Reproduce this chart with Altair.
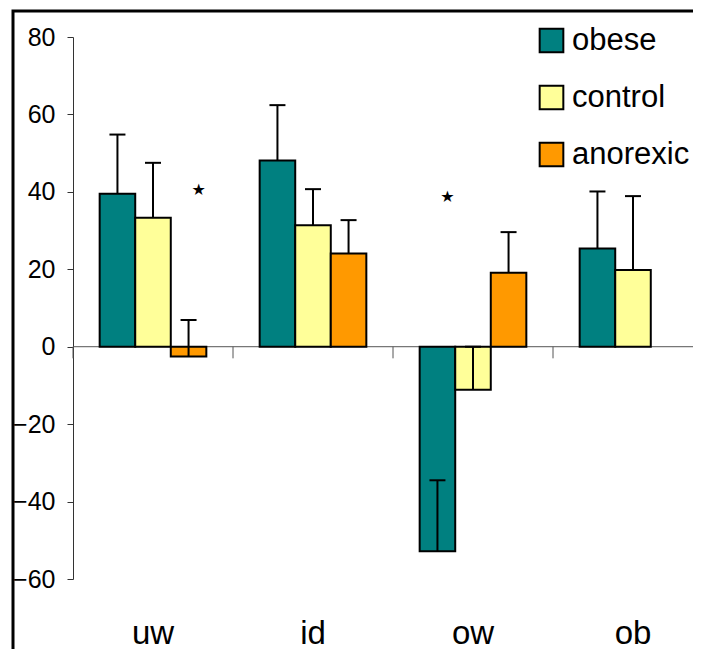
import altair as alt
import pandas as pd

groups = ["uw", "id", "ow", "ob"]
series = ["obese", "control", "anorexic"]
colors = ["#008080", "#FFFF99", "#FF9900"]

obese_vals = [39.5, 48.1, -52.8, 25.4]
control_vals = [33.3, 31.4, -11.1, 19.8]
anorexic_vals = [-2.5, 24.1, 19.1, None]

obese_err = [15.3, 14.3, 18.3, 14.7]
control_err = [14.2, 9.3, 11.1, 19.1]
anorexic_err = [9.4, 8.6, 10.5, None]

star_groups = ["uw", "ow"]
star_series = ["anorexic", "obese"]
star_vals = [40.6, 38.6]

rows = []
for s, vals, errs in [("obese", obese_vals, obese_err),
                      ("control", control_vals, control_err),
                      ("anorexic", anorexic_vals, anorexic_err)]:
    for g, v, e in zip(groups, vals, errs):
        if v is None:
            continue
        rows.append({"group": g, "series": s, "value": v, "upper": v + e})
df = pd.DataFrame(rows)
stars = pd.DataFrame({"group": star_groups, "series": star_series, "value": star_vals})
gdf = pd.DataFrame({"group": groups})
one = pd.DataFrame({"a": [0]})

FONT = "Liberation Sans"
xscale = alt.Scale(domain=groups, range=[0, 640], paddingInner=0, paddingOuter=0)
xaxis = alt.Axis(orient="bottom", domain=False, ticks=False, labelFontSize=33, labelFont=FONT,
                 labelColor="black", labelPadding=38, labelAngle=0, title=None, grid=False)
yscale = alt.Scale(domain=[-60, 80], nice=False, zero=False)
yaxis = alt.Axis(values=[-60, -40, -20, 0, 20, 40, 60, 80], domain=True, domainColor="#333333",
                 ticks=True, tickSize=6, tickColor="#333333", labelFontSize=25, labelFont=FONT,
                 labelColor="black", labelPadding=12, grid=False, title=None)
offscale = alt.Scale(domain=series, paddingOuter=0.75, paddingInner=0)


def X():
    return alt.X("group:N", scale=xscale, axis=xaxis)


def XO():
    return alt.XOffset("series:N", scale=offscale)


frame = alt.Chart(one).mark_rect(fillOpacity=0, stroke="black", strokeWidth=3).encode(
    x=alt.value(-60), x2=alt.value(720), y=alt.value(-26), y2=alt.value(720))

zero = alt.Chart(one).mark_rule(color="#555555", strokeWidth=1).encode(
    y=alt.Y(datum=0, scale=yscale, axis=yaxis))

seps = alt.Chart(gdf).mark_rule(color="#555555", strokeWidth=1).encode(
    x=alt.X("group:N", bandPosition=0, scale=xscale, axis=xaxis),
    y=alt.Y(datum=0, scale=yscale, axis=yaxis), y2=alt.Y2(datum=-3))

bars = alt.Chart(df).mark_bar(stroke="black", strokeWidth=2).encode(
    x=X(), xOffset=XO(),
    y=alt.Y("value:Q", scale=yscale, axis=yaxis),
    fill=alt.Fill("series:N", scale=alt.Scale(domain=series, range=colors),
                  legend=alt.Legend(orient="none", legendX=463, legendY=-12, title=None,
                                    labelFontSize=31, labelFont=FONT, labelColor="black",
                                    symbolType="square", symbolSize=560,
                                    symbolStrokeColor="black", symbolStrokeWidth=2,
                                    symbolOpacity=1, rowPadding=24, labelOffset=5, padding=0)))

stems = alt.Chart(df).mark_rule(color="black", strokeWidth=2).encode(
    x=X(), xOffset=XO(), y=alt.Y("value:Q", scale=yscale, axis=yaxis), y2="upper:Q")

caps = alt.Chart(df).mark_tick(color="black", thickness=2, size=16, opacity=1).encode(
    x=X(), xOffset=XO(), y=alt.Y("upper:Q", scale=yscale, axis=yaxis))

star = alt.Chart(stars).mark_text(text="★", dx=10, fontSize=16, font="DejaVu Sans", color="black").encode(
    x=X(), xOffset=XO(), y=alt.Y("value:Q", scale=yscale, axis=yaxis))

chart = alt.layer(frame, zero, seps, bars, stems, caps, star).properties(
    width=620, height=542,
    autosize=alt.AutoSizeParams(type="none"),
    padding={"left": 65, "top": 29, "right": 0, "bottom": 70},
).configure_view(strokeWidth=0)

chart.save("out.html", embed_options={"renderer": "svg", "actions": False})
